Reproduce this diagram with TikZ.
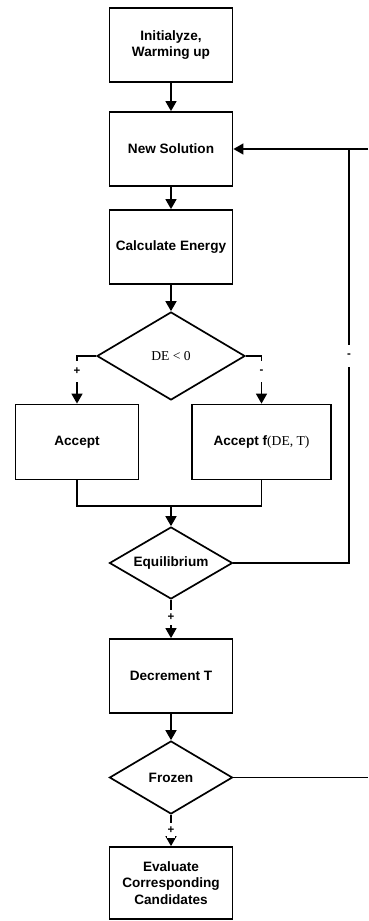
\documentclass[tikz,border=0pt]{standalone}
\usepackage{fontspec}
\setmainfont{Liberation Sans}
\newfontfamily\tnr{Liberation Serif}
\usetikzlibrary{shapes.geometric,arrows.meta}

\tikzset{
  box/.style={draw,line width=1.8pt,minimum width=123pt,minimum height=74pt,inner sep=0pt,
    align=center,font=\fontsize{13.6}{16.5}\selectfont\bfseries},
  test/.style={draw,diamond,aspect=1.66,line width=1.7pt,minimum width=123pt,minimum height=73pt,
    inner sep=0pt,font=\fontsize{13.6}{16.5}\selectfont\bfseries},
  arr/.style={line width=1.6pt,-{Triangle[width=11pt,length=10pt]}},
  lnk/.style={line width=1.3pt},
  sgn/.style={fill=white,inner sep=0pt,minimum width=8pt,minimum height=15pt,
    font=\fontsize{11.5}{12}\selectfont\bfseries}
}

\begin{document}
\begin{tikzpicture}[x=1pt,y=-1pt]
\useasboundingbox (0,0) rectangle (368,921);
\node[box] (init) at (171,45) {Initialyze,\\Warming up};
\node[box] (newsol) at (171,149) {New Solution};
\node[box] (calc) at (171,247) {Calculate Energy};
\node[test,minimum width=148pt,minimum height=88pt] (de) at (171,356) {\tnr\mdseries DE < 0};
\node[box,minimum height=75pt] (acc) at (77,442) {Accept};
\node[box,minimum width=139pt,minimum height=75pt] (accf) at (261.5,442) {Accept f{\tnr\mdseries(DE, T)}};
\node[test,minimum height=72pt] (eq) at (171,563) {Equilibrium};
\node[box] (dec) at (171,676) {Decrement T};
\node[test] (frz) at (171,777.5) {Frozen};
\node[box,minimum height=72pt] (eval) at (171,883) {Evaluate\\Corresponding\\Candidates};

\coordinate (mrg) at (171,506);
\coordinate (eqr) at (349,563);
\coordinate (nsr) at (349,149);
\coordinate (nse) at (368,149);
\coordinate (frr) at (368,777.5);

\draw[arr] (init) -- (newsol);
\draw[arr] (newsol) -- (calc);
\draw[arr] (calc) -- (de);
\draw[arr] (de.west) -| (acc.north) node[sgn,minimum height=21pt,pos=0.66]{+};
\draw[arr] (de.east) -| (accf.north) node[sgn,minimum height=21pt,pos=0.66]{-};
\draw[lnk] (acc.south) |- (mrg) -| (accf.south);
\draw[arr] (mrg) -- (eq.north);
\draw[lnk] (eq.east) -- (eqr) -- node[sgn,minimum height=22pt]{-} (nsr);
\draw[arr,line width=1.3pt] (nse) -- (newsol.east);
\draw[arr] (eq.south) -- node[sgn,pos=0.45]{+} (dec.north);
\draw[arr] (dec) -- (frz);
\draw[lnk] (frz.east) -- (frr);
\draw[arr] (frz.south) -- node[sgn,pos=0.5]{+} (eval.north);
\end{tikzpicture}
\end{document}
